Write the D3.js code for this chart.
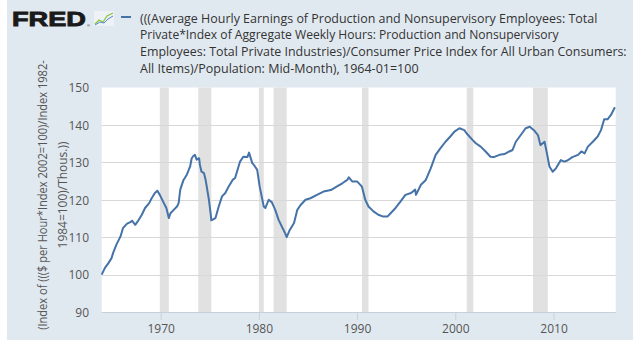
<!DOCTYPE html>
<html>
<head>
<meta charset="utf-8">
<script src="https://cdn.jsdelivr.net/npm/d3@7/dist/d3.min.js"></script>
<style>
  html, body { margin: 0; padding: 0; background: #ffffff; }
  svg { display: block; }
</style>
</head>
<body>
<svg id="chart" width="640" height="340"></svg>
<script>
// ---- data ----
const dates = [
"1964-01","1964-05","1964-09","1965-01","1965-03","1965-07","1965-12","1966-03","1966-08","1966-12",
"1967-02","1967-06","1967-09","1968-02","1968-06","1968-11","1969-02","1969-06","1969-09","1969-12",
"1970-05","1970-08","1970-11","1971-01","1971-05","1971-09","1971-11","1972-01","1972-05","1972-09",
"1973-01","1973-03","1973-05","1973-07","1973-09","1973-12","1974-01","1974-03","1974-06","1974-08",
"1974-12","1975-02","1975-03","1975-08","1975-12","1976-04","1976-08","1976-12","1977-05","1977-08",
"1977-11","1978-02","1978-06","1978-11","1979-01","1979-05","1979-07","1979-11","1980-02","1980-07",
"1980-09","1981-01","1981-05","1981-09","1982-01","1982-05","1982-09","1982-11","1983-03","1983-08",
"1983-12","1984-04","1984-10","1985-04","1985-12","1986-08","1987-05","1987-12","1988-07","1989-01",
"1989-03","1989-07","1990-01","1990-07","1990-11","1991-03","1991-09","1992-03","1992-09","1993-02",
"1993-06","1993-12","1994-06","1994-12","1995-07","1995-12","1996-01","1996-07","1997-01","1997-07",
"1998-01","1998-07","1999-01","1999-07","1999-12","2000-06","2000-12","2001-03","2001-10","2002-02",
"2002-08","2003-02","2003-08","2003-12","2004-07","2005-01","2005-07","2005-11","2006-03","2006-09",
"2007-03","2007-08","2008-01","2008-06","2008-09","2009-02","2009-05","2009-08","2009-12","2010-04",
"2010-10","2011-02","2011-06","2011-12","2012-07","2012-11","2013-03","2013-07","2014-01","2014-07",
"2014-11","2015-03","2015-07","2015-11","2016-04"
];
const values = [
100.0,101.8,103.0,104.4,105.8,108.0,110.2,112.4,113.6,114.0,
114.4,113.3,114.2,116.0,117.8,119.1,120.4,121.8,122.4,121.3,
119.1,117.8,115.1,116.4,117.3,118.2,119.1,122.7,125.3,126.7,
128.9,131.1,131.7,132.0,130.7,131.1,129.3,127.5,127.1,125.3,
120.0,116.4,114.5,115.1,118.2,120.9,121.8,123.5,125.3,125.8,
128.0,130.2,131.5,131.4,132.6,129.8,129.3,128.0,123.5,118.2,
117.8,120.0,119.3,117.3,114.7,112.9,111.1,110.0,112.0,113.8,
117.3,118.6,120.0,120.4,121.3,122.2,122.6,123.5,124.4,125.3,
126.0,124.9,124.9,123.5,120.0,118.2,116.9,116.0,115.5,115.5,
116.4,117.8,119.5,121.3,121.8,122.7,121.3,124.0,125.3,128.4,
132.0,133.8,135.5,136.9,138.2,139.1,138.6,137.7,136.0,135.1,
134.2,132.9,131.5,131.4,132.0,132.2,132.9,133.3,135.5,137.3,
139.1,139.5,138.6,137.3,134.6,135.5,132.4,128.9,127.5,128.4,
130.6,130.2,130.5,131.4,132.0,132.9,132.4,134.2,135.5,136.9,
138.6,141.5,141.5,142.6,144.7
];
const recessionStarts = ["1969-12","1973-11","1980-01","1981-07","1990-07","2001-03","2007-12"];
const recessionEnds   = ["1970-11","1975-03","1980-07","1982-11","1991-03","2001-11","2009-06"];
const yTicks = [90, 100, 110, 120, 130, 140, 150];
const xTickYears = [1970, 1980, 1990, 2000, 2010];
const titleLines = [
  "(((Average Hourly Earnings of Production and Nonsupervisory Employees: Total",
  "Private*Index of Aggregate Weekly Hours: Production and Nonsupervisory",
  "Employees: Total Private Industries)/Consumer Price Index for All Urban Consumers:",
  "All Items)/Population: Mid-Month), 1964-01=100"
];
const yTitleLines = [
  "(Index of ((($ per Hour*Index 2002=100)/Index 1982-",
  "1984=100)/Thous.))"
];

// ---- drawing ----
const parse = d3.timeParse("%Y-%m");
const series = dates.map((d, i) => ({ date: parse(d), value: values[i] }));

const svg = d3.select("#chart");
const plot = { left: 101.7, right: 615.7, top: 87.5, bottom: 312 };

svg.append("rect").attr("x", 7).attr("y", 0).attr("width", 626).attr("height", 340)
  .attr("fill", "#e1e9f0");

const x = d3.scaleTime()
  .domain([parse("1964-01"), parse("2016-05")])
  .range([plot.left, plot.right]);
const y = d3.scaleLinear().domain([90, 150]).range([plot.bottom, plot.top]);

svg.append("rect").attr("x", plot.left).attr("y", plot.top)
  .attr("width", plot.right - plot.left).attr("height", plot.bottom - plot.top)
  .attr("fill", "#ffffff");

// recession shading
svg.append("g").selectAll("rect").data(recessionStarts).join("rect")
  .attr("x", (d) => x(parse(d)))
  .attr("width", (d, i) => x(parse(recessionEnds[i])) - x(parse(d)))
  .attr("y", plot.top).attr("height", plot.bottom - plot.top)
  .attr("fill", "#e1e1e1");

// grid lines
svg.append("g").selectAll("line").data(yTicks.filter(t => t > 90 && t < 150)).join("line")
  .attr("x1", plot.left).attr("x2", plot.right)
  .attr("y1", d => Math.round(y(d)) + 0.5).attr("y2", d => Math.round(y(d)) + 0.5)
  .attr("stroke", "#d8d8d8").attr("stroke-width", 1);

// y axis labels
const yAxis = d3.axisLeft(y).tickValues(yTicks).tickSize(0).tickPadding(0);
const gy = svg.append("g").attr("transform", `translate(${89},0)`).call(yAxis);
gy.select(".domain").remove();
gy.selectAll("text").attr("font-family", "Open Sans").attr("font-size", 12)
  .attr("fill", "#555").attr("dy", "0.36em");

// x axis
const xAxis = d3.axisBottom(x)
  .tickValues(xTickYears.map(yv => new Date(yv, 0, 1)))
  .tickFormat(d3.timeFormat("%Y")).tickSize(8).tickPadding(4);
const gx = svg.append("g").attr("transform", `translate(0,${plot.bottom})`).call(xAxis);
gx.select(".domain").attr("stroke", "#c5d0dc").attr("d", `M${plot.left},0.5H${plot.right}`);
gx.selectAll(".tick line").attr("stroke", "#c5d0dc");
gx.selectAll("text").attr("font-family", "Open Sans").attr("font-size", 12).attr("fill", "#555");

// data line
const line = d3.line().x(d => x(d.date)).y(d => y(d.value));
svg.append("path").datum(series).attr("d", line)
  .attr("fill", "none").attr("stroke", "#4572a7").attr("stroke-width", 2)
  .attr("stroke-linejoin", "round");

// helper: draw text then squeeze horizontally to a target width
function fitText(parent, str, tx, ty, width, opts) {
  const g = parent.append("g");
  const t = g.append("text").attr("x", 0).attr("y", 0)
    .attr("font-family", opts.family).attr("font-size", opts.size)
    .attr("fill", opts.fill).attr("text-anchor", opts.anchor || "start")
    .text(str);
  const natural = t.node().getComputedTextLength();
  const sx = width / natural;
  g.attr("transform", `translate(${tx},${ty}) scale(${sx},1)`);
  return g;
}

// y title
const yt = svg.append("g").attr("transform", "translate(0,195) rotate(-90)");
yTitleLines.forEach((s, i) => {
  fitText(yt, s, 0, i === 0 ? 47 : 67, i === 0 ? 270 : 107,
    { family: "Open Sans", size: 12.5, fill: "#555", anchor: "middle" });
});

// FRED logo
svg.append("text").attr("x", 12).attr("y", 26)
  .attr("font-family", "Liberation Sans").attr("font-weight", "bold").attr("font-size", 21)
  .attr("fill", "#1a1a1a").attr("stroke", "#1a1a1a").attr("stroke-width", 0.9)
  .attr("textLength", 74).attr("lengthAdjust", "spacingAndGlyphs")
  .text("FRED");
svg.append("text").attr("x", 87).attr("y", 27).attr("font-family", "Liberation Sans")
  .attr("font-size", 4).attr("fill", "#222").text("®");
const icon = svg.append("g").attr("transform", "translate(94,11)");
icon.append("rect").attr("width", 20).attr("height", 15).attr("fill", "#eef2f6");
icon.append("polyline").attr("points", "1,13 5,9 9,11 13,5 19,2")
  .attr("fill", "none").attr("stroke", "#8cc63e").attr("stroke-width", 1.3);
icon.append("polyline").attr("points", "1,14 6,11 10,12 14,8 19,5")
  .attr("fill", "none").attr("stroke", "#4f86c6").attr("stroke-width", 1);

// legend dash
svg.append("line").attr("x1", 121).attr("x2", 131).attr("y1", 17).attr("y2", 17)
  .attr("stroke", "#4572a7").attr("stroke-width", 2);

// title
const titleEnds = [598, 559, 627, 419];
const tg = svg.append("g");
titleLines.forEach((s, i) => {
  fitText(tg, s, 140, 22.5 + i * 16.7, titleEnds[i] - 140,
    { family: "Open Sans", size: 12, fill: "#333" });
});
</script>
</body>
</html>
